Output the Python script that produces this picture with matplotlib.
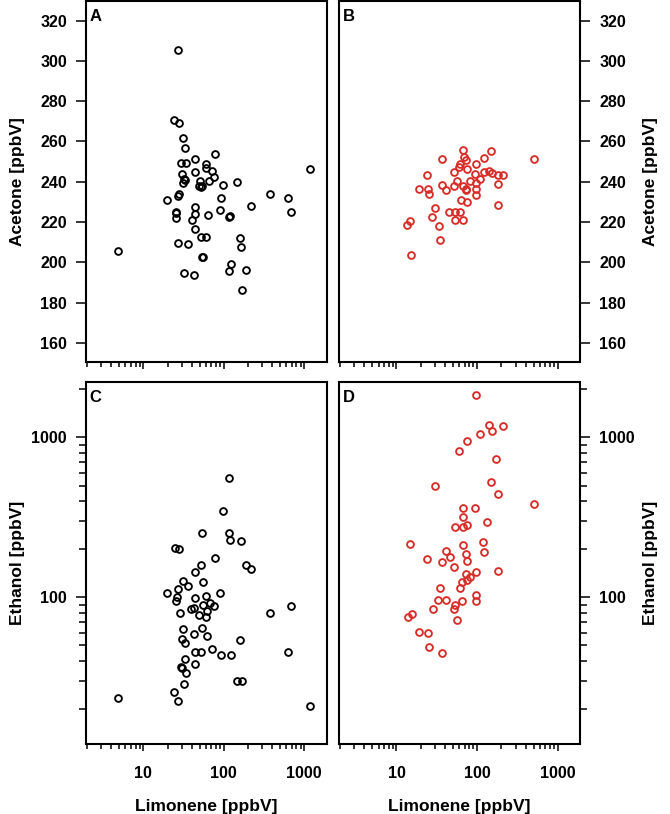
import numpy as np
import matplotlib
matplotlib.use("Agg")
import matplotlib.pyplot as plt
from matplotlib.ticker import FixedLocator, NullFormatter, FixedFormatter

plt.rcParams['font.family'] = ['Liberation Sans', 'DejaVu Sans']
plt.rcParams['font.weight'] = 'bold'

# ---------------- data ----------------
# Panel A: limonene vs acetone (black)
a_limonene = [26.7, 24.0, 27.7, 30.8, 32.6, 78.4, 29.4, 33.9, 43.8, 60.0,
              60.0, 71.3, 30.2, 44.3, 74.8, 31.7, 33.3, 65.5, 51.1, 30.8,
              49.1, 53.5, 52.5, 98.6, 147, 1175, 371, 632, 676, 28.0,
              27.0, 19.7, 93.1, 220, 44.3, 25.2, 25.6, 25.7, 44.3, 62.9,
              89.6, 116, 120, 40.3, 43.4, 51.5, 60.6, 157, 162, 27.2,
              36.2, 4.8, 54.1, 55.0, 124, 117, 190, 31.7, 43.1, 168]
a_acetone = [305.7, 270.6, 269.1, 261.8, 256.8, 253.8, 249.5, 249.5, 251.2, 248.7,
             247.0, 245.4, 244.0, 244.7, 242.4, 241.6, 241.1, 240.4, 240.6, 239.2,
             238.1, 237.9, 237.2, 238.6, 240.1, 246.4, 234.1, 232.1, 225.1, 234.1,
             232.9, 231.1, 231.9, 228.0, 227.6, 225.1, 224.5, 222.2, 224.1, 223.3,
             226.1, 222.3, 222.8, 221.0, 216.4, 212.4, 212.7, 212.0, 207.6, 209.7,
             208.9, 205.6, 202.4, 202.4, 198.9, 195.5, 196.1, 194.6, 193.6, 186.2]

# Panel B: limonene vs acetone (red)
b_limonene = [66.4, 149, 68.2, 62.1, 72.3, 36.3, 507, 97.3, 122, 59.7,
              75.2, 52.2, 93.5, 120, 140, 155, 179, 209, 24.1, 56.4,
              81.1, 109, 97.2, 182, 36.3, 51.8, 66.4, 73.6, 72.0, 18.8,
              24.5, 25.5, 41.1, 98.2, 98.2, 63.8, 75.9, 181, 30.3, 45.3,
              53.2, 62.1, 27.5, 53.7, 66.4, 14.7, 13.7, 33.3, 34.6, 15.1]
b_acetone = [255.8, 255.3, 252.3, 249.0, 250.7, 251.2, 251.2, 248.9, 251.7, 247.4,
             246.5, 244.9, 243.9, 244.9, 245.5, 244.5, 243.2, 243.4, 243.2, 240.2,
             240.6, 241.4, 239.4, 239.1, 238.2, 238.1, 237.7, 236.3, 235.8, 236.6,
             236.6, 233.8, 236.1, 236.3, 233.4, 230.9, 229.8, 228.6, 226.8, 225.1,
             225.1, 225.1, 222.3, 220.8, 220.8, 220.7, 218.3, 217.8, 211.0, 203.4]

# Panel C: limonene vs ethanol (black)
c_limonene = [116, 98.6, 53.5, 117, 120, 162, 24.5, 27.5, 77.6, 52.0,
              190, 220, 44.3, 55.1, 31.1, 36.2, 27.2, 19.7, 26.4, 25.5,
              90.6, 44.3, 60.0, 54.6, 67.3, 75.5, 39.1, 42.6, 61.2, 49.7,
              60.0, 28.5, 371, 676, 30.8, 54.1, 43.1, 62.4, 30.2, 33.0,
              157, 71.3, 44.3, 51.5, 93.1, 124, 632, 33.3, 43.8, 29.1,
              30.2, 34.2, 31.7, 144, 168, 24.0, 27.0, 4.8, 1175]
c_ethanol = [557, 347, 254, 252, 227, 225, 204, 201, 177, 159,
             160, 150, 145, 125, 126, 118, 112, 106, 101, 94.9,
             106, 99, 102, 90, 91.7, 87.8, 84.6, 85.8, 81.8, 77.2,
             75.7, 80.1, 80.1, 87.8, 63.7, 64.3, 58.7, 57.3, 55.2, 51.6,
             54.3, 47.7, 45.7, 45.3, 43.6, 43.8, 45.5, 41.4, 38.1, 36.7,
             36.2, 33.8, 28.8, 30.1, 30.1, 25.5, 22.5, 23.6, 20.9]

# Panel D: limonene vs ethanol (red)
d_limonene = [97.3, 141, 207, 152, 110, 75.2, 60.3, 172, 30.3, 148,
              181, 507, 66.4, 93.5, 67.6, 53.7, 66.4, 74.3, 134, 14.7,
              66.4, 119, 122, 41.1, 46.1, 72.3, 74.3, 24.1, 36.3, 52.2,
              182, 98.2, 72.3, 81.1, 75.2, 65.1, 60.8, 34.3, 97.3, 97.3,
              33.0, 41.5, 64.4, 52.7, 52.2, 28.1, 15.4, 13.8, 56.9, 19.0,
              24.5, 25.5, 36.6]
d_ethanol = [1857, 1205, 1184, 1096, 1050, 949, 829, 729, 499, 529,
             441, 385, 361, 361, 316, 275, 275, 283, 294, 216,
             213, 222, 192, 196, 178, 186, 169, 173, 166, 154,
             147, 144, 139, 135, 128, 124, 115, 114, 103, 95.3,
             96.2, 95.7, 94.4, 89.5, 84.6, 84.6, 79.1, 75.0, 72.1, 60.4,
             60.1, 48.9, 44.9]

acetone_ticks = [160, 180, 200, 220, 240, 260, 280, 300, 320]
ethanol_major = [100, 1000]
ethanol_labels = ["100", "1000"]
limonene_major = [10, 100, 1000]
limonene_labels = ["10", "100", "1000"]

BLACK = "black"
RED = "#d72d28"

# ---------------- figure ----------------
W, H = 670, 814
fig = plt.figure(figsize=(W / 100, H / 100), dpi=100)


def px_axes(x0, y0, x1, y1):
    # pixel box (from top-left) -> figure fraction
    return fig.add_axes([x0 / W, 1 - y1 / H, (x1 - x0) / W, (y1 - y0) / H])


left_x = (86, 326.7)
right_x = (339, 580.3)
top_y = (1, 362.3)
bot_y = (382.3, 744)

axA = px_axes(left_x[0], top_y[0], left_x[1], top_y[1])
axB = px_axes(right_x[0], top_y[0], right_x[1], top_y[1])
axC = px_axes(left_x[0], bot_y[0], left_x[1], bot_y[1])
axD = px_axes(right_x[0], bot_y[0], right_x[1], bot_y[1])

FS_TICK = 11.5
FS_LAB = 12.5
TW = 1.1

x_minor = [m * 10 ** e for e in range(0, 4) for m in range(2, 10)]
y_minor = [m * 10 ** e for e in range(1, 4) for m in range(2, 10)]


def style(ax, xs, ys, color, side, ylog, xlabels):
    ax.plot(xs, ys, linestyle='none', marker='o', markersize=4.9,
            markerfacecolor='none', markeredgecolor=color, markeredgewidth=1.35)
    ax.set_xscale('log')
    ax.set_xlim(1.94, 1900)
    for s in ax.spines.values():
        s.set_linewidth(1.5)
    ax.xaxis.set_major_locator(FixedLocator(limonene_major))
    ax.xaxis.set_minor_locator(FixedLocator([v for v in x_minor if v not in limonene_major]))
    if xlabels:
        ax.xaxis.set_major_formatter(FixedFormatter(limonene_labels))
    else:
        ax.xaxis.set_major_formatter(NullFormatter())
    ax.xaxis.set_minor_formatter(NullFormatter())
    ax.tick_params(axis='x', which='major', direction='out', length=5.2, width=TW,
                   pad=10.5, labelsize=FS_TICK)
    ax.tick_params(axis='x', which='minor', direction='out', length=3.6, width=TW)
    if ylog:
        ax.set_yscale('log')
        ax.set_ylim(12.1, 2214)
        ax.yaxis.set_major_locator(FixedLocator(ethanol_major))
        ax.yaxis.set_major_formatter(FixedFormatter(ethanol_labels))
        ax.yaxis.set_minor_locator(FixedLocator([v for v in y_minor if v not in ethanol_major]))
        ax.yaxis.set_minor_formatter(NullFormatter())
    else:
        ax.set_ylim(150.3, 329.8)
        ax.yaxis.set_major_locator(FixedLocator(acetone_ticks))
        ax.yaxis.set_major_formatter(FixedFormatter([str(v) for v in acetone_ticks]))
    ax.tick_params(axis='y', which='major', direction='out', length=7.2, width=TW,
                   pad=6.5, labelsize=FS_TICK)
    ax.tick_params(axis='y', which='minor', direction='out', length=4.8, width=TW)
    if side == 'right':
        ax.yaxis.tick_right()
        ax.tick_params(axis='y', which='both', left=False, right=True,
                       labelleft=False, labelright=True)
    for lab in ax.get_xticklabels() + ax.get_yticklabels():
        lab.set_fontweight('bold')


style(axA, a_limonene, a_acetone, BLACK, 'left', False, False)
style(axB, b_limonene, b_acetone, RED, 'right', False, False)
style(axC, c_limonene, c_ethanol, BLACK, 'left', True, True)
style(axD, d_limonene, d_ethanol, RED, 'right', True, True)

for ax, letter in [(axA, 'A'), (axB, 'B'), (axC, 'C'), (axD, 'D')]:
    ax.annotate(letter, xy=(0, 1), xycoords='axes fraction', xytext=(3.5, -8.0),
                textcoords='offset pixels', ha='left', va='top',
                fontsize=12, fontweight='bold')


def ftext(x, y, s, **kw):
    fig.text(x / W, 1 - y / H, s, fontsize=FS_LAB, fontweight='bold', **kw)


ftext(18, (top_y[0] + top_y[1]) / 2, "Acetone [ppbV]", rotation=90, ha='center', va='center')
ftext(651, (top_y[0] + top_y[1]) / 2, "Acetone [ppbV]", rotation=90, ha='center', va='center')
ftext(18, (bot_y[0] + bot_y[1]) / 2, "Ethanol [ppbV]", rotation=90, ha='center', va='center')
ftext(651, (bot_y[0] + bot_y[1]) / 2, "Ethanol [ppbV]", rotation=90, ha='center', va='center')
ftext(sum(left_x) / 2, 810.5, "Limonene [ppbV]", ha='center', va='baseline')
ftext(sum(right_x) / 2, 810.5, "Limonene [ppbV]", ha='center', va='baseline')

fig.savefig("out.png", dpi=100)
